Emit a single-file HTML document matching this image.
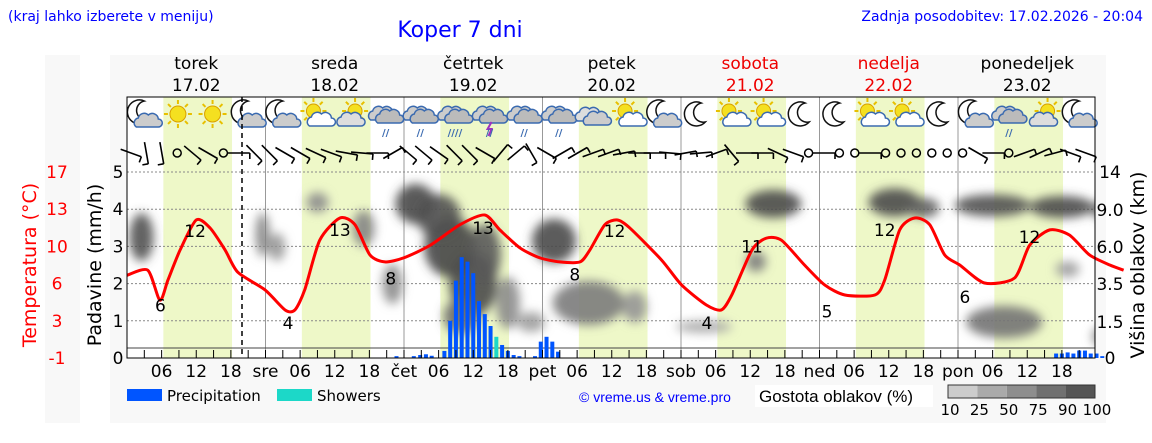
<!DOCTYPE html>
<html><head><meta charset="utf-8"><style>
html,body{margin:0;padding:0;background:#fff;width:1152px;height:443px;overflow:hidden}
svg{display:block;font-family:"DejaVu Sans","Liberation Sans",sans-serif}
</style></head><body>
<svg id="chart" width="1152" height="443" viewBox="0 0 1152 443">
<defs>
<filter id="blur" x="-50%" y="-50%" width="200%" height="200%"><feGaussianBlur stdDeviation="5"/></filter>
<clipPath id="plotclip"><rect x="127" y="172" width="968" height="186"/></clipPath>
</defs>
<rect x="45" y="55" width="35" height="368" fill="#f8f8f8"/>
<rect x="110" y="55" width="996" height="368" fill="#f8f8f8"/>
<rect x="127" y="97" width="968" height="261" fill="#fff"/>
<text x="8" y="21" font-size="14" fill="#0000ff">(kraj lahko izberete v meniju)</text>
<text x="460" y="37" font-size="22" fill="#0000ff" text-anchor="middle">Koper 7 dni</text>
<text x="1143" y="21" font-size="14" fill="#0000ff" text-anchor="end">Zadnja posodobitev: 17.02.2026 - 20:04</text>
<g id="shade"></g><g id="grid"></g>
<g id="clouds" clip-path="url(#plotclip)"><g id="cloudsInner" filter="url(#blur)"></g></g>
<g id="bars"></g><g id="temp"></g><g id="icons"></g><g id="wind"></g><g id="axes"></g>
<rect x="127" y="97" width="968" height="261" fill="none" stroke="#000" stroke-width="1"/>
<line x1="242" y1="97" x2="242" y2="358" stroke="#000" stroke-width="1.5" stroke-dasharray="5,4"/>
<text transform="translate(36,265) rotate(-90)" font-size="19" fill="#ff0000" text-anchor="middle">Temperatura (°C)</text>
<text transform="translate(101,265) rotate(-90)" font-size="19" fill="#000" text-anchor="middle">Padavine (mm/h)</text>
<text transform="translate(1144,265) rotate(-90)" font-size="19" fill="#000" text-anchor="middle">Višina oblakov (km)</text>
<rect x="127" y="389" width="35" height="12" fill="#0055ff"/>
<text x="167" y="401" font-size="15">Precipitation</text>
<rect x="277" y="389" width="35" height="12" fill="#1cd8c8"/>
<text x="317" y="401" font-size="15">Showers</text>
<text x="579" y="402" font-size="14" fill="#0000ff" font-family="Liberation Sans,sans-serif">© vreme.us &amp; vreme.pro</text>
<rect x="755" y="385" width="178" height="22" fill="#fff"/>
<text x="759" y="402" font-size="17" font-family="Liberation Sans,sans-serif">Gostota oblakov (%)</text>
<g id="cbar"></g>
</svg>
<script>
const NS='http://www.w3.org/2000/svg';
const X0=127,DAY=138.5;
function xOf(h){return X0+h*DAY/24;}
function yPrec(v){return 358-v*37.2;}
function yTemp(t){return 358-(t+1)*10.333;}
const kmT=[0,1.5,3.5,6,9,14],kmY=[358,322,284,247,210,172];
function yKm(k){for(let i=1;i<kmT.length;i++){if(k<=kmT[i]){const f=(k-kmT[i-1])/(kmT[i]-kmT[i-1]);return kmY[i-1]+f*(kmY[i]-kmY[i-1]);}}return 172;}
function el(t,a,p){const e=document.createElementNS(NS,t);for(const k in a)e.setAttribute(k,a[k]);(p||document.getElementById('chart')).appendChild(e);return e;}

const dayNames=['torek','sreda','četrtek','petek','sobota','nedelja','ponedeljek'];
const dayDates=['17.02','18.02','19.02','20.02','21.02','22.02','23.02'];
const dayAbbr=['','sre','čet','pet','sob','ned','pon'];
const tempHours=[0,3.6,5.7,7.1,9.2,12.0,14.4,17.0,19.2,23.9,27.4,29.1,30.8,33.4,36.9,39.5,42.1,44.7,48.0,52.5,57.7,62.0,64.6,68.1,71.5,75.0,78.5,80.2,82.8,85.0,87.1,92.6,96.1,100.4,103.0,104.8,108.3,110.8,113.4,117.4,120.9,124.4,129.6,131.3,133.9,136.5,139.1,141.7,144.3,148.6,153.8,156.4,159.9,163.3,166.8,170.3,172.7];
const temps=[7.0,7.5,4.6,6.55,9.45,12.36,11.58,9.45,7.3,5.6,3.65,3.65,5.6,10.4,12.55,11.9,8.97,8.3,8.7,9.9,11.9,12.84,11.4,9.65,8.7,8.3,8.3,9.45,11.9,12.36,11.6,8.5,6.07,4.13,3.65,5.1,9.45,10.6,10.4,8.0,6.07,5.1,5.1,6.55,11.4,12.55,11.9,8.97,8.0,6.26,6.74,9.9,11.4,10.9,8.97,8.0,7.5];
const tempLabelHours=[5.8,11.8,27.9,36.9,45.7,61.7,77.6,84.5,100.5,108.3,121.3,131.3,145.2,156.4];
const tempLabels=['6','12','4','13','8','13','8','12','4','11','5','12','6','12'];
const tempLabelY=[4.1,11.3,2.4,11.4,6.7,11.6,7.1,11.3,2.4,9.8,3.5,11.4,4.9,10.7];
const precHours=[46.7,49.7,50.8,51.8,52.8,55,56,57,58,59,60,61,62,63,65,66,67,68,70.7,71.7,72.7,73.7,74.7,161,162,163,164,165,166,167,168,169];
const precValues=[0.05,0.05,0.08,0.1,0.06,0.19,1.0,2.08,2.71,2.59,2.28,1.53,1.18,0.86,0.35,0.19,0.08,0.05,0.05,0.44,0.57,0.44,0.17,0.12,0.12,0.15,0.12,0.2,0.2,0.12,0.12,0.05];
const showerHours=[64];
const showerValues=[0.57];
const cloudHours=[2.5,23.5,33,41,50,56,60,58,66,74,80,88,100,112,109,133,138,150,162,170,152,163,169,54,62,46,26,70];
const cloudKm=[6.8,7,10,7.5,9.8,6,3.5,1.8,2.5,6.5,2.5,2.3,1.3,9.8,5,10,9.3,9.6,9.4,9.0,1.5,4.5,0.9,8.5,5.5,3.5,6.0,1.5];
const cloudDensity=[85,55,50,55,90,92,88,70,50,88,60,45,35,88,60,88,75,85,88,80,65,40,55,85,80,50,45,40];
const cloudRx=[12,7,11,11,20,26,24,18,12,22,36,12,28,28,10,26,16,38,32,16,38,12,10,22,16,10,8,14];
const cloudRy=[24,22,10,18,20,30,32,18,26,22,22,16,6,14,10,14,10,11,11,10,16,8,10,22,30,20,14,10];
const iconCodes=['MC','S','S','MC','MC','SC','CS','MR','R','RR','T','R','R','C','SC','MC','M','SC','SC','M','M','SC','SC','M','MC','R','CS','MC'];
const windAngles=[20,80,80,0,40,30,25,0,45,45,30,30,25,20,10,5,0,-30,40,40,35,45,45,30,-50,-40,60,30,-30,-30,-20,-20,-10,0,0,5,-10,-5,-20,50,0,0,25,20,0,0,0,0,0,0,0,0,0,0,40,30,0,-20,-20,-25,-15,20,20];
const windCalm=[0,0,0,1,0,0,1,0,0,0,0,0,0,0,0,0,0,0,0,0,0,0,0,0,0,0,0,0,0,0,0,0,0,0,0,0,0,0,0,0,0,0,0,0,1,0,1,1,0,1,1,1,1,1,1,0,0,1,0,0,0,0,0];

const shade=document.getElementById('shade'),grid=document.getElementById('grid'),axes=document.getElementById('axes');
for(let d=0;d<7;d++){
  let r=el('rect',{x:xOf(d*24+6.3),y:97,width:xOf(18.2)-xOf(6.3),height:261,fill:'#eef8c8'},shade);
  
  
  if(d>0){let l=el('line',{x1:xOf(d*24),y1:97,x2:xOf(d*24),y2:358,stroke:'#999','stroke-width':1},grid);
    
    }
  const cx=xOf(d*24+12),red=(d==4||d==5)?'#ee0000':'#000';
  let t1=el('text',{x:cx,y:69,'font-size':17,'text-anchor':'middle',fill:red},axes);t1.textContent=dayNames[d];
  
  
  let t2=el('text',{x:cx,y:91,'font-size':17,'text-anchor':'middle',fill:red},axes);t2.textContent=dayDates[d];
  
  
  [6,12,18].forEach(h=>{let t=el('text',{x:xOf(d*24+h),y:377,'font-size':17,'text-anchor':'middle'},axes);t.textContent=String(h).padStart(2,'0');
    
    });
  if(d>0){let t=el('text',{x:xOf(d*24),y:377,'font-size':17,'text-anchor':'middle'},axes);t.textContent=dayAbbr[d];
    
    }
  for(let h=0;h<24;h+=3){let tk=el('line',{x1:xOf(d*24+h),y1:350,x2:xOf(d*24+h),y2:358,stroke:'#000','stroke-width':1},axes);
    
    }
}
for(let v=1;v<=5;v++){let l=el('line',{x1:127,y1:yPrec(v),x2:1095,y2:yPrec(v),stroke:'#888','stroke-width':1,'stroke-dasharray':'2,2'},grid);
  
  }
el('line',{x1:127,y1:348,x2:1095,y2:348,stroke:'#444','stroke-width':1},grid);
const precTicks=['0','1','2','3','4','5'];
precTicks.forEach((s,i)=>{let t=el('text',{x:118,y:yPrec(i)+6,'font-size':17,'text-anchor':'middle'},axes);t.textContent=s;
  
  });
const tempTicks=['-1','3','6','10','13','17'];
tempTicks.forEach((s,i)=>{let t=el('text',{x:57,y:yPrec(i)+6,'font-size':17,'text-anchor':'middle',fill:'#ff0000'},axes);t.textContent=s;
  
  });
const kmTicks=['0','1.5','3.5','6.0','9.0','14'];
kmTicks.forEach((s,i)=>{let t=el('text',{x:1110,y:kmY[i]+6,'font-size':17,'text-anchor':'middle'},axes);t.textContent=s;
  
  });
const cg=document.getElementById('cloudsInner');
function dcol(d){const v=Math.round(225-d*1.7);return `rgb(${v},${v},${v})`;}
cloudHours.forEach((h,i)=>{
  let e=el('ellipse',{cx:xOf(h),cy:yKm(cloudKm[i]),rx:cloudRx[i],ry:cloudRy[i],fill:dcol(cloudDensity[i]),opacity:0.9},cg);
  
  
});
const bg=document.getElementById('bars');
precHours.forEach((h,i)=>{let r=el('rect',{x:xOf(h)-2,y:yPrec(precValues[i]),width:4,height:358-yPrec(precValues[i]),fill:'#0055ff'},bg);
  
  });
showerHours.forEach((h,i)=>{let r=el('rect',{x:xOf(h)-2,y:yPrec(showerValues[i]),width:4,height:358-yPrec(showerValues[i]),fill:'#1cd8c8'},bg);
  
  });
const tg=document.getElementById('temp');
let pts=tempHours.map((h,i)=>[xOf(h),yTemp(temps[i])]);
let d='M'+pts[0][0]+','+pts[0][1];
for(let i=1;i<pts.length;i++){const p0=pts[i-1],p1=pts[i],pm=pts[i-2]||p0,pn=pts[i+1]||p1;
  d+=` C${p0[0]+(p1[0]-pm[0])/8},${p0[1]+(p1[1]-pm[1])/8} ${p1[0]-(pn[0]-p0[0])/8},${p1[1]-(pn[1]-p0[1])/8} ${p1[0]},${p1[1]}`;}
let tl=el('path',{d:d,fill:'none',stroke:'#ff0000','stroke-width':3},tg);


tempLabelHours.forEach((h,i)=>{let t=el('text',{x:xOf(h),y:yTemp(tempLabelY[i])+6,'font-size':17,'text-anchor':'middle'},tg);t.textContent=tempLabels[i];
  
  });
const ig=document.getElementById('icons');
function sun(g,x,y,r){for(let a=0;a<8;a++){const an=a*Math.PI/4;el('line',{x1:x+Math.cos(an)*(r+2),y1:y+Math.sin(an)*(r+2),x2:x+Math.cos(an)*(r+6),y2:y+Math.sin(an)*(r+6),stroke:'#e8c000','stroke-width':2},g);}
  el('circle',{cx:x,cy:y,r:r,fill:'#f4e020',stroke:'#d8a000','stroke-width':1},g);}
function moon(g,x,y){el('path',{d:`M${x+4},${y-11} A12,12 0 1,0 ${x+8},${y+8} A9,9 0 1,1 ${x+4},${y-11}Z`,fill:'#fff',stroke:'#111','stroke-width':1.5},g);}
function cloud(g,x,y,c,s){el('path',{d:`M${x-11},${y+6} a5,5 0 0,1 2,-9 a6,6 0 0,1 10,-3 a6,6 0 0,1 10,4 a4,4 0 0,1 0,8Z`,fill:c,stroke:s||'#3a6ab0','stroke-width':1.5},g);}
iconCodes.forEach((c,i)=>{
  const x=xOf(i*6+3)-1,y=114;
  let g=el('g',{},ig);
  
  
  if(c=='S')sun(g,x,y,8);
  else if(c=='SC'){sun(g,x-3,y-3,7);cloud(g,x+4,y+6,'#fff');}
  else if(c=='CS'){sun(g,x+4,y-3,7);cloud(g,x-1,y+6,'#ddd');}
  else if(c=='M')moon(g,x,y);
  else if(c=='MC'){moon(g,x-3,y-2);cloud(g,x+4,y+7,'#ccc');}
  else if(c=='C'){cloud(g,x-5,y+1,'#ddd');cloud(g,x+3,y+5,'#ccc');}
  else{cloud(g,x-4,y,'#ccc');cloud(g,x+3,y+3,'#bbb');
    if(c=='T')el('path',{d:`M${x+2},${y+8} l-4,7 h4 l-3,7`,stroke:'#a030c0',fill:'none','stroke-width':2},g);
    let t=el('text',{x:x,y:y+22,'font-size':10,fill:'#3a6ab0','text-anchor':'middle','font-weight':'bold'},g);t.textContent=c=='RR'?'////':'//';}
});
const wg=document.getElementById('wind');
windAngles.forEach((a,i)=>{
  const x=X0+4+i*15.4,y=153;
  if(x>1095)return;
  if(windCalm[i]){let c=el('circle',{cx:x,cy:y,r:4,fill:'none',stroke:'#000','stroke-width':1.5},wg);
    
    return;}
  const r=a*Math.PI/180,dx=Math.cos(r)*11,dy=Math.sin(r)*11;
  let g=el('g',{},wg);
  
  
  el('line',{x1:x-dx,y1:y-dy,x2:x+dx,y2:y+dy,stroke:'#000','stroke-width':1.6},g);
  el('line',{x1:x+dx,y1:y+dy,x2:x+dx-Math.sin(r)*6,y2:y+dy+Math.cos(r)*6,stroke:'#000','stroke-width':1.6},g);
});
const cbCols=['#cccccc','#aaaaaa','#8e8e8e','#707070','#555555'];
const cbLabels=['10','25','50','75','90','100'];
const cb=document.getElementById('cbar');
cbCols.forEach((c,i)=>{let r=el('rect',{x:948+i*29.4,y:385,width:29.4,height:13,fill:c},cb);
  
  });
el('rect',{x:948,y:385,width:147,height:13,fill:'none',stroke:'#333','stroke-width':1},cb);
cbLabels.forEach((s,i)=>{let t=el('text',{x:950+i*29.4,y:415,'font-size':15,'text-anchor':'middle'},cb);t.textContent=s;
  
  });
</script>
</body></html>
